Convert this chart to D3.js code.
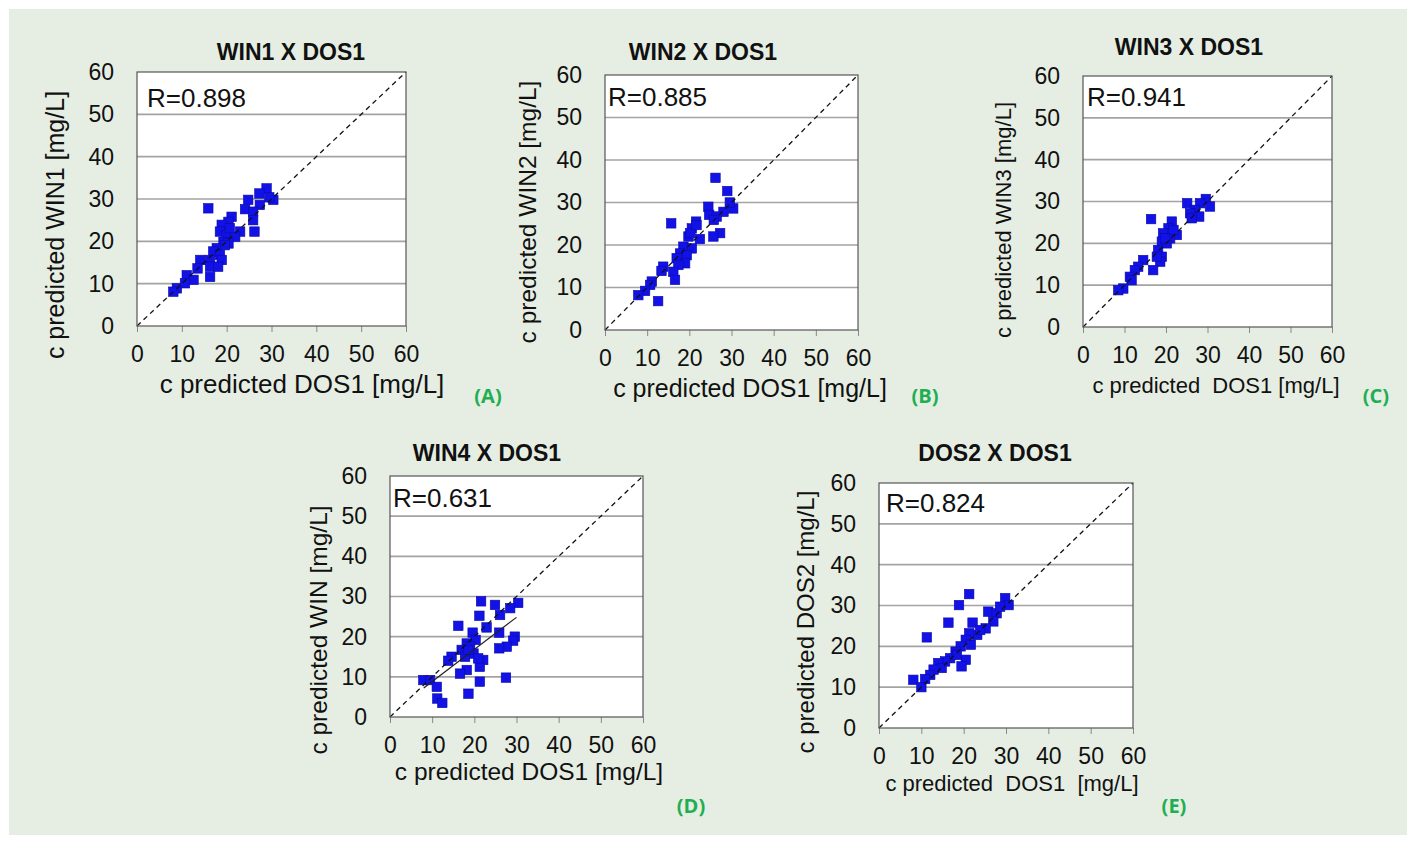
<!DOCTYPE html>
<html>
<head>
<meta charset="utf-8">
<script src="https://cdn.jsdelivr.net/npm/d3@7"></script>
<style>
  body { margin: 0; background: #fff; }
  text { font-family: "Liberation Sans", Arial, sans-serif; }
</style>
</head>
<body>
<svg id="chart" width="1407" height="843"></svg>
<script>
// axis ticks (same on x and y for every panel)
const tickValues = [0, 10, 20, 30, 40, 50, 60];

const panelLetters = ["(A)", "(B)", "(C)", "(D)", "(E)"];
const panelTitles = ["WIN1 X DOS1", "WIN2 X DOS1", "WIN3 X DOS1", "WIN4 X DOS1", "DOS2 X DOS1"];
const xTitles = ["c predicted DOS1 [mg/L]", "c predicted DOS1 [mg/L]", "c predicted  DOS1 [mg/L]",
                 "c predicted DOS1 [mg/L]", "c predicted  DOS1  [mg/L]"];
const yTitles = ["c predicted WIN1 [mg/L]", "c predicted WIN2 [mg/L]", "c predicted WIN3 [mg/L]",
                 "c predicted WIN [mg/L]", "c predicted DOS2 [mg/L]"];
const rValues = [0.898, 0.885, 0.941, 0.631, 0.824];

// [DOS1, other] pairs
const pointsA = [[28.9,32.5],[27.3,31.3],[30.4,29.8],[29.5,30.4],[24.8,29.8],[24.1,27.6],[27.4,28.6],
  [25.9,27.0],[25.9,25.0],[26.2,22.3],[15.9,27.8],[21.1,25.8],[20.4,24.6],[18.9,23.9],[18.5,22.3],
  [23.0,22.3],[20.0,21.5],[21.9,21.1],[19.3,19.9],[20.4,19.5],[17.8,18.4],[17.0,17.6],[18.5,16.8],
  [16.3,15.6],[18.9,15.6],[14.1,15.6],[16.3,14.0],[13.5,13.6],[16.3,11.6],[11.1,12.0],[12.6,10.9],
  [8.9,8.9],[8.1,8.1],[10.7,10.1],[18.1,14.0],[19.6,19.1],[20.7,23.1]];
const pointsB = [[26.2,35.8],[29.0,32.7],[30.4,28.6],[29.6,30.0],[28.1,27.8],[24.5,29.0],[24.7,27.1],
  [26.5,26.7],[25.8,25.9],[27.3,22.8],[25.7,22.0],[15.7,25.1],[21.6,25.5],[20.6,23.9],[19.8,22.0],
  [22.5,21.4],[18.6,19.6],[20.6,19.2],[17.8,18.0],[19.4,17.6],[17.0,16.9],[19.0,15.7],[17.4,15.3],
  [16.2,13.7],[16.6,11.8],[13.8,14.9],[13.4,13.9],[11.1,11.4],[10.7,10.6],[9.5,9.2],[7.9,8.2],
  [12.6,6.8],[20.2,22.8],[21.7,24.7]];
const pointsC = [[29.6,30.6],[30.6,28.8],[28.2,29.6],[25.1,29.6],[27.0,28.0],[25.8,27.2],[28.0,26.4],
  [26.2,26.0],[16.4,25.8],[21.4,25.2],[20.6,23.6],[19.3,22.4],[22.6,22.0],[21.0,21.2],[19.0,20.4],
  [20.2,20.0],[18.1,18.4],[19.0,16.8],[18.6,15.6],[16.9,13.6],[14.5,16.0],[13.3,14.4],[12.5,13.6],
  [11.3,12.0],[11.7,11.2],[9.7,9.2],[8.5,8.8],[21.8,23.2],[19.8,21.2],[17.8,16.8]];
const pointsD = [[30.4,28.4],[28.5,27.1],[24.9,27.9],[21.6,28.8],[26.1,25.4],[21.2,25.2],[22.9,22.3],
  [16.2,22.7],[19.6,21.0],[25.9,21.0],[29.6,20.0],[29.2,19.0],[27.7,17.5],[25.9,17.1],[20.3,19.2],
  [18.2,18.3],[19.0,17.5],[17.0,16.7],[19.8,15.8],[17.8,15.0],[14.6,15.0],[13.8,14.0],[22.1,14.2],
  [21.3,12.5],[18.2,11.7],[16.6,10.8],[21.3,8.8],[27.5,9.8],[7.9,9.2],[9.5,9.2],[11.1,7.5],
  [11.2,4.6],[12.4,3.5],[18.6,5.8],[20.9,14.6],[18.6,16.7]];
const pointsE = [[21.3,32.8],[18.9,30.1],[29.8,31.8],[30.6,30.1],[16.4,25.8],[22.1,25.8],[11.3,22.2],
  [25.8,28.5],[27.8,28.1],[27.0,26.1],[25.2,24.4],[23.2,22.8],[21.3,23.2],[20.5,21.6],[21.7,20.4],
  [19.3,20.0],[18.1,18.7],[20.5,16.7],[16.8,17.1],[15.6,16.3],[14.0,15.9],[14.8,14.7],[12.9,14.3],
  [12.1,13.0],[10.9,12.0],[8.1,11.8],[10.0,10.0],[18.4,17.9],[19.5,15.1],[28.6,29.7],[23.9,24.0]];
const pointSets = [pointsA, pointsB, pointsC, pointsD, pointsE];

// fitted line shown only in panel D
const trendD = [[8, 7.2], [30, 24.8]];
const trendLines = [null, null, null, trendD, null];

// layout of each panel (plot box and label anchors, in page pixels)
const layout = [
  { left: 137, top: 72, w: 269, h: 254, title: [291, 52], xt: [302, 384], yt: [55, 225], tag: [488, 396], rx: 10, ry: 35, xtSize: 26, ytSize: 25 },
  { left: 605, top: 75, w: 253, h: 255, title: [703, 52], xt: [750, 388], yt: [527, 212], tag: [925, 396], rx: 3, ry: 31, xtSize: 25, ytSize: 24.5 },
  { left: 1083, top: 76, w: 249, h: 251, title: [1189, 47], xt: [1216, 385], yt: [1003, 220], tag: [1376, 396], rx: 4, ry: 30, xtSize: 22, ytSize: 22 },
  { left: 390, top: 476, w: 253, h: 241, title: [487, 453], xt: [529, 771], yt: [318, 630], tag: [691, 806], rx: 3, ry: 31, xtSize: 24.5, ytSize: 24.5 },
  { left: 879, top: 483, w: 254, h: 245, title: [995, 453], xt: [1012, 783], yt: [806, 622], tag: [1174, 806], rx: 7, ry: 29, xtSize: 22, ytSize: 24 }
];

const svg = d3.select("#chart");

// page background
svg.append("rect")
  .attr("x", 9).attr("y", 9)
  .attr("width", 1398).attr("height", 826)
  .attr("fill", "#e6eee3");

const markSize = 9.5;

pointSets.forEach((pts, i) => {
  const L = layout[i];
  const g = svg.append("g").attr("transform", `translate(${L.left},${L.top})`);

  const x = d3.scaleLinear().domain([0, 60]).range([0, L.w]);
  const y = d3.scaleLinear().domain([0, 60]).range([L.h, 0]);

  // plot area
  g.append("rect")
    .attr("width", L.w).attr("height", L.h)
    .attr("fill", "#fff");

  // horizontal gridlines
  g.selectAll(".grid")
    .data(tickValues.filter(t => t > 0 && t < 60))
    .enter().append("line")
    .attr("x1", 0).attr("x2", L.w)
    .attr("y1", d => y(d)).attr("y2", d => y(d))
    .attr("stroke", "#a3a3a3").attr("stroke-width", 1.6);

  // axes
  const xAxis = g.append("g")
    .attr("transform", `translate(0,${L.h})`)
    .call(d3.axisBottom(x).tickValues(tickValues).tickSizeInner(6).tickSizeOuter(0).tickPadding(14));
  const yAxis = g.append("g")
    .call(d3.axisLeft(y).tickValues(tickValues).tickSize(0).tickPadding(23));
  [xAxis, yAxis].forEach(ax => {
    ax.select(".domain").remove();
    ax.selectAll(".tick line").attr("stroke", "#888");
    ax.selectAll("text")
      .style("font-family", "'Liberation Sans', Arial, sans-serif")
      .style("font-size", "23px")
      .attr("fill", "#111");
  });

  // points
  g.selectAll(".pt")
    .data(pts)
    .enter().append("rect")
    .attr("x", d => x(d[0]) - markSize / 2)
    .attr("y", d => y(d[1]) - markSize / 2)
    .attr("width", markSize).attr("height", markSize)
    .attr("fill", "#1212e6")
    .attr("stroke", "#0a0aa8").attr("stroke-width", 0.6);

  // 1:1 line
  g.append("line")
    .attr("x1", x(0)).attr("y1", y(0))
    .attr("x2", x(60)).attr("y2", y(60))
    .attr("stroke", "#111").attr("stroke-width", 1.3)
    .attr("stroke-dasharray", "5,4");

  if (trendLines[i]) {
    g.append("line")
      .attr("x1", x(trendLines[i][0][0])).attr("y1", y(trendLines[i][0][1]))
      .attr("x2", x(trendLines[i][1][0])).attr("y2", y(trendLines[i][1][1]))
      .attr("stroke", "#222").attr("stroke-width", 1.2);
  }

  // border
  g.append("rect")
    .attr("width", L.w).attr("height", L.h)
    .attr("fill", "none")
    .attr("stroke", "#555").attr("stroke-width", 1.2);

  // R value
  g.append("text")
    .attr("x", L.rx).attr("y", L.ry)
    .style("font-size", "26px")
    .attr("fill", "#111")
    .text("R=" + d3.format(".3f")(rValues[i]));

  // panel title
  svg.append("text")
    .attr("x", L.title[0]).attr("y", L.title[1])
    .attr("dy", "0.35em")
    .attr("text-anchor", "middle")
    .style("font-size", "23px").style("font-weight", "bold")
    .attr("fill", "#111")
    .text(panelTitles[i]);

  // x title
  svg.append("text")
    .attr("x", L.xt[0]).attr("y", L.xt[1])
    .attr("dy", "0.35em")
    .attr("text-anchor", "middle")
    .style("font-size", L.xtSize + "px")
    .style("white-space", "pre")
    .attr("fill", "#111")
    .text(xTitles[i]);

  // y title
  svg.append("text")
    .attr("transform", `translate(${L.yt[0]},${L.yt[1]}) rotate(-90)`)
    .attr("dy", "0.35em")
    .attr("text-anchor", "middle")
    .style("font-size", L.ytSize + "px")
    .attr("fill", "#111")
    .text(yTitles[i]);

  // panel letter
  svg.append("text")
    .attr("x", L.tag[0]).attr("y", L.tag[1])
    .attr("dy", "0.35em")
    .attr("text-anchor", "middle")
    .style("font-family", "'Open Sans', 'Noto Sans', sans-serif")
    .style("font-size", "20px").style("font-weight", "bold")
    .attr("fill", "#1fae52")
    .text(panelLetters[i]);
});
</script>
</body>
</html>
